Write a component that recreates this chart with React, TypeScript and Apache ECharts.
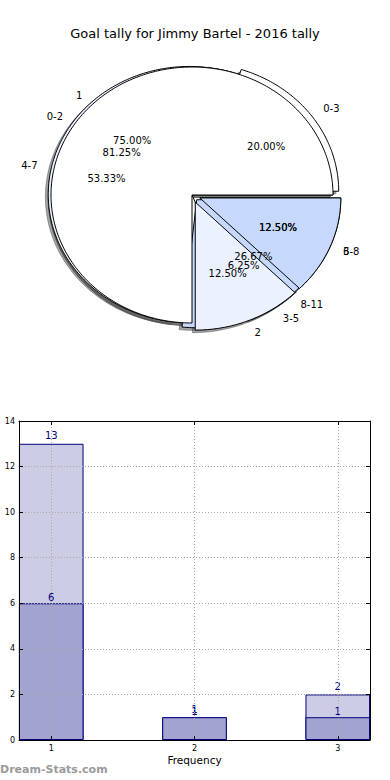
import React, { useEffect, useRef } from "react";
import * as echarts from "echarts";

// ---------- data ----------
const chartTitle = "Goal tally for Jimmy Bartel - 2016 tally";

const pieALabels = ["1", "2", "3"];
const pieAValues = [6, 1, 1];
const pieBLabels = ["0-2", "3-5", "6-8"];
const pieBValues = [13, 1, 2];
const pieCLabels = ["0-3", "4-7", "8-11"];
const pieCValues = [3, 8, 4];

const barX = [1, 2, 3];
const barTotals = [13, 1, 2];
const barParts = [6, 1, 1];

const xAxisName = "Frequency";
const yAxisName = "Goal Tally";
const watermark = "Dream-Stats.com";

// ---------- styles ----------
const FONT = '"DejaVu Sans", "Liberation Sans", sans-serif';
const SLICE_COLORS = ["#ffffff", "#ebf1fe", "#c6d9fd"];
const EXPLODE_A = [0, 0.06, 0.06];
const EXPLODE_B = [0, 0.06, 0.06];
const EXPLODE_C = [0.05, 0.02, 0.05];
const SHADOW_OFFSET = -0.02;

type Wedge = {
  t1: number;
  t2: number;
  ox: number;
  oy: number;
  mid: number;
  e: number;
  color: string;
  label: string;
  pct: string;
};

function buildPie(labels: string[], values: number[], explode: number[]): Wedge[] {
  const total = values.reduce((a, b) => a + b, 0);
  let acc = 0;
  return values.map((v, i) => {
    const t1 = (acc / total) * 360;
    acc += v;
    const t2 = (acc / total) * 360;
    const mid = (((t1 + t2) / 2) * Math.PI) / 180;
    const e = explode[i];
    return {
      t1,
      t2,
      ox: e * Math.cos(mid),
      oy: e * Math.sin(mid),
      mid,
      e,
      color: SLICE_COLORS[i % SLICE_COLORS.length],
      label: labels[i],
      pct: ((v / total) * 100).toFixed(2) + "%",
    };
  });
}

const pieA = buildPie(pieALabels, pieAValues, EXPLODE_A);
const pieB = buildPie(pieBLabels, pieBValues, EXPLODE_B);
const pieC = buildPie(pieCLabels, pieCValues, EXPLODE_C);

// draw order: B bottom, then C, then A on top
const drawWedges: Wedge[] = [...pieB, ...pieC, ...pieA];

type PieText = { x: number; y: number; text: string; align: string };
const pieTexts: PieText[] = [];
[pieA, pieB, pieC].forEach((pie) => {
  pie.forEach((w) => {
    const c = Math.cos(w.mid);
    const s = Math.sin(w.mid);
    const lx = (1.1 + w.e) * c;
    const ly = (1.1 + w.e) * s;
    pieTexts.push({ x: lx, y: ly, text: w.label, align: lx > 0 ? "left" : "right" });
    pieTexts.push({ x: (0.6 + w.e) * c, y: (0.6 + w.e) * s, text: w.pct, align: "center" });
  });
});

function wedgePoints(w: Wedge, api: any, dx: number, dy: number) {
  const cx = w.ox + dx;
  const cy = w.oy + dy;
  const pts: number[][] = [];
  const full = w.t2 - w.t1 >= 359.999;
  if (!full) pts.push(api.coord([cx, cy]));
  const n = Math.max(2, Math.ceil(w.t2 - w.t1));
  for (let k = 0; k <= n; k++) {
    const a = ((w.t1 + ((w.t2 - w.t1) * k) / n) * Math.PI) / 180;
    pts.push(api.coord([cx + Math.cos(a), cy + Math.sin(a)]));
  }
  return pts;
}

export default function App() {
  const ref = useRef<HTMLDivElement>(null);

  useEffect(() => {
    if (!ref.current) return;
    const chart = echarts.init(ref.current, undefined, { renderer: "svg" });

    const tickCommon = { show: true, inside: true, length: 4, lineStyle: { color: "#000", width: 1 } };
    const lineCommon = { show: true, onZero: false, lineStyle: { color: "#000", width: 1 } };
    const gridLine = { show: true, lineStyle: { color: "#a8a8a8", width: 1, type: [1, 2] as any } };

    const option: any = {
      animation: false,
      backgroundColor: "#ffffff",
      title: {
        text: chartTitle,
        left: "center",
        top: 22,
        textStyle: { fontFamily: FONT, fontSize: 13, fontWeight: "normal", color: "#000" },
      },
      grid: [
        { left: 15.75, top: 35, width: 352.5, height: 320, containLabel: false, outerBoundsMode: "none" },
        { left: 19, top: 421, width: 351, height: 319, containLabel: false, outerBoundsMode: "none" },
      ],
      xAxis: [
        { gridIndex: 0, type: "value", min: -1.25, max: 1.25, show: false },
        {
          gridIndex: 1,
          type: "value",
          min: 0.775,
          max: 3.225,
          position: "bottom",
          z: 5,
          axisLine: lineCommon,
          axisTick: { ...tickCommon, customValues: barX },
          axisLabel: { customValues: barX, fontSize: 8, fontFamily: FONT, color: "#000", margin: 4 },
          splitLine: gridLine,
          name: xAxisName,
          nameLocation: "middle",
          nameGap: 14,
          nameTextStyle: { fontFamily: FONT, fontSize: 10.5, color: "#000" },
        },
        {
          gridIndex: 1,
          type: "value",
          min: 0.775,
          max: 3.225,
          position: "top",
          z: 5,
          axisLine: lineCommon,
          axisTick: { ...tickCommon, customValues: barX },
          axisLabel: { show: false },
          splitLine: { show: false },
        },
      ],
      yAxis: [
        { gridIndex: 0, type: "value", min: -1.25, max: 1.25, show: false },
        {
          gridIndex: 1,
          type: "value",
          min: 0,
          max: 14,
          interval: 2,
          position: "left",
          z: 5,
          axisLine: lineCommon,
          axisTick: tickCommon,
          axisLabel: { fontSize: 8, fontFamily: FONT, color: "#000", margin: 4 },
          splitLine: gridLine,
          name: yAxisName,
          nameLocation: "middle",
          nameGap: 18,
          nameRotate: 90,
          nameTextStyle: { fontFamily: FONT, fontSize: 10.5, color: "#000" },
        },
        {
          gridIndex: 1,
          type: "value",
          min: 0,
          max: 14,
          interval: 2,
          position: "right",
          z: 5,
          axisLine: lineCommon,
          axisTick: tickCommon,
          axisLabel: { show: false },
          splitLine: { show: false },
        },
      ],
      series: [
        {
          type: "custom",
          name: "shadows",
          xAxisIndex: 0,
          yAxisIndex: 0,
          clip: false,
          z: 2,
          silent: true,
          data: drawWedges.map((_, i) => [i, 0]),
          renderItem: (params: any, api: any) => {
            const w = drawWedges[params.dataIndex];
            return {
              type: "polygon",
              z2: params.dataIndex,
              shape: { points: wedgePoints(w, api, SHADOW_OFFSET, SHADOW_OFFSET) },
              style: { fill: "rgba(77,77,77,0.5)", stroke: "rgba(77,77,77,0.5)", lineWidth: 1 },
            };
          },
        },
        {
          type: "custom",
          name: "wedges",
          xAxisIndex: 0,
          yAxisIndex: 0,
          clip: false,
          z: 3,
          silent: true,
          data: drawWedges.map((_, i) => [i, 0]),
          renderItem: (params: any, api: any) => {
            const w = drawWedges[params.dataIndex];
            return {
              type: "polygon",
              z2: params.dataIndex,
              shape: { points: wedgePoints(w, api, 0, 0) },
              style: { fill: w.color, stroke: "#000", lineWidth: 1, lineJoin: "miter" },
            };
          },
        },
        {
          type: "custom",
          name: "pieTexts",
          xAxisIndex: 0,
          yAxisIndex: 0,
          clip: false,
          z: 4,
          silent: true,
          data: pieTexts.map((t) => [t.x, t.y]),
          renderItem: (params: any, api: any) => {
            const t = pieTexts[params.dataIndex];
            const p = api.coord([t.x, t.y]);
            return {
              type: "text",
              x: p[0],
              y: p[1],
              z2: 100 + params.dataIndex,
              style: {
                text: t.text,
                fill: "#000",
                font: `10px ${FONT}`,
                align: t.align,
                verticalAlign: "middle",
              },
            };
          },
        },
        {
          type: "bar",
          name: "total",
          xAxisIndex: 1,
          yAxisIndex: 1,
          barWidth: 64.6,
          barGap: "-100%",
          z: 2,
          data: barX.map((x, i) => [x, barTotals[i]]),
          itemStyle: { color: "#ccccE5", borderColor: "#000080", borderWidth: 1 },
          label: {
            show: true,
            position: "top",
            distance: 3,
            color: "#000080",
            fontSize: 10,
            fontFamily: FONT,
            formatter: (p: any) => String(p.value[1]),
          },
        },
        {
          type: "bar",
          name: "part",
          xAxisIndex: 1,
          yAxisIndex: 1,
          barWidth: 64.6,
          barGap: "-100%",
          z: 2,
          data: barX.map((x, i) => [x, barParts[i]]),
          itemStyle: { color: "#a3a3d0", borderColor: "#000080", borderWidth: 1 },
          label: {
            show: true,
            position: "top",
            distance: 1,
            color: "#000080",
            fontSize: 10,
            fontFamily: FONT,
            formatter: (p: any) => String(p.value[1]),
          },
        },
      ],
      graphic: [
        {
          type: "text",
          left: 0,
          top: 764,
          style: { text: watermark, fill: "#9a9a9a", font: `bold 11px ${FONT}` },
        },
      ],
    };

    chart.setOption(option);
    return () => chart.dispose();
  }, []);

  return (
    <div
      ref={ref}
      style={{ position: "absolute", left: 0, top: 0, width: 390, height: 780, background: "#fff" }}
    />
  );
}
